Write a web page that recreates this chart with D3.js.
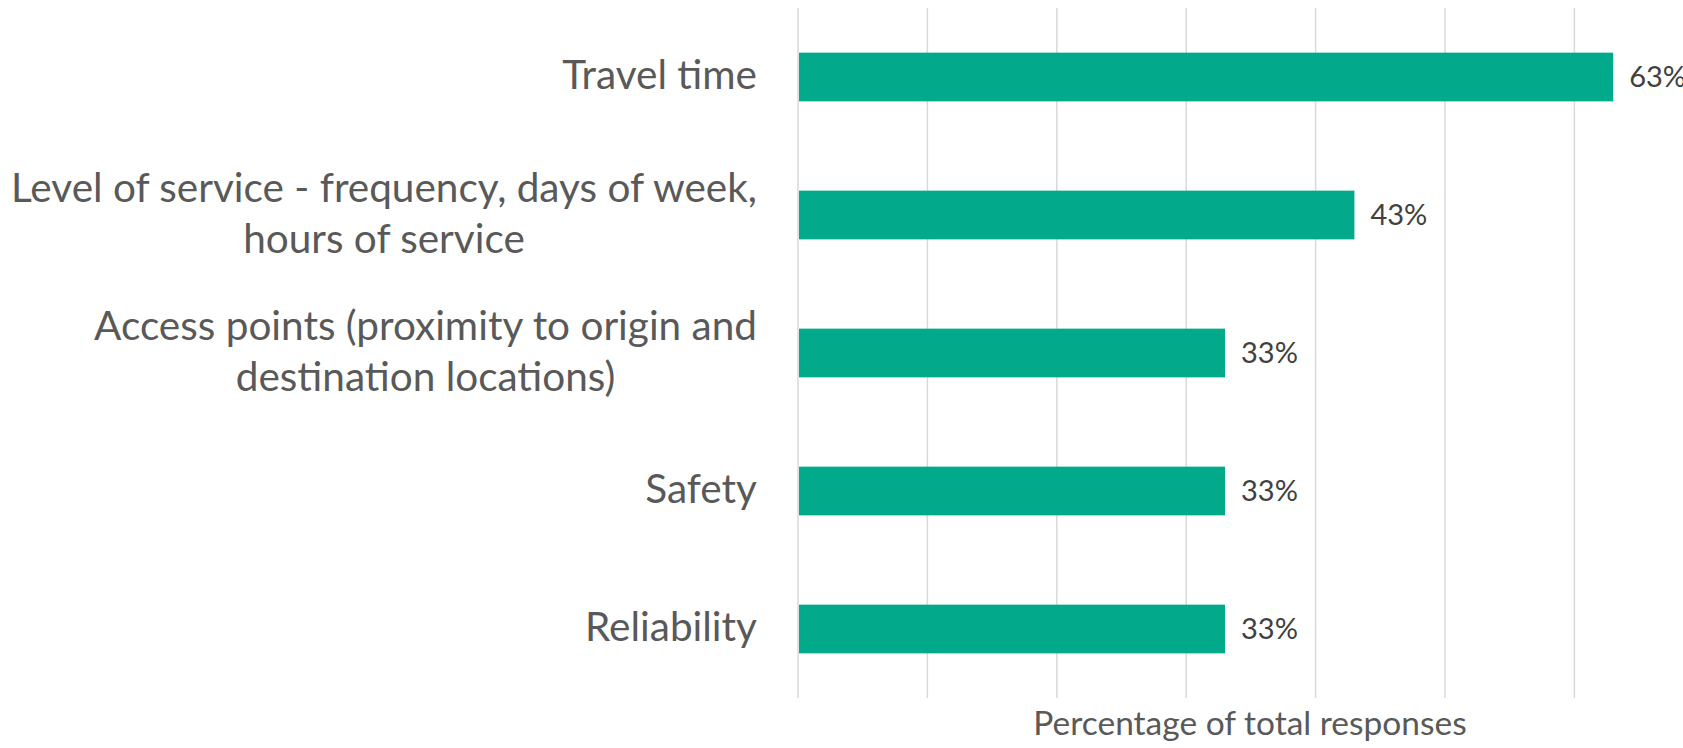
<!DOCTYPE html>
<html>
<head>
<meta charset="utf-8">
<script src="https://cdn.jsdelivr.net/npm/d3@7"></script>
<style>
  html, body { margin: 0; padding: 0; background: #fff; }
  svg { display: block; font-family: 'Source Sans Pro', Lato, sans-serif; }
</style>
</head>
<body>
<div class="root"></div>
<script>
const categories = [
  ['Travel time'],
  ['Level of service - frequency, days of week,', 'hours of service'],
  ['Access points (proximity to origin and', 'destination locations)'],
  ['Safety'],
  ['Reliability']
]
const values = [0.63, 0.43, 0.33, 0.33, 0.33]
const gridTicks = [0, 0.1, 0.2, 0.3, 0.4, 0.5, 0.6]
const axisTitle = 'Percentage of total responses'

const width = 1683
    , height = 748

const svg = d3.select('.root')
              .append('svg')
              .attr('width', width)
              .attr('height', height)

const keys = categories.map(c => c.join(' '))

const x = d3.scaleLinear()
            .domain([0, 0.6])
            .range([798, 1574.4])

const y = d3.scaleBand()
            .domain(keys)
            .range([8, 698])
            .paddingInner(0.647)
            .paddingOuter(0.3235)

// vertical gridlines
svg.append('g')
   .selectAll('line')
   .data(gridTicks)
   .enter()
   .append('line')
   .attr('x1', d => x(d))
   .attr('x2', d => x(d))
   .attr('y1', 8)
   .attr('y2', 698)
   .attr('stroke', '#d9d9d9')
   .attr('stroke-width', 1.5)

// bars
svg.append('g')
   .selectAll('rect')
   .data(values)
   .enter()
   .append('rect')
   .attr('x', x(0) + 1)
   .attr('y', (d, i) => y(keys[i]))
   .attr('width', d => x(d) - x(0) - 1)
   .attr('height', y.bandwidth())
   .attr('fill', '#02aa8b')

// value labels
svg.append('g')
   .selectAll('text')
   .data(values)
   .enter()
   .append('text')
   .attr('x', d => x(d) + 16)
   .attr('y', (d, i) => y(keys[i]) + y.bandwidth() / 2)
   .attr('dy', '0.35em')
   .attr('fill', '#404040')
   .style('font-size', '29px')
   .text(d => d3.format('.0%')(d))

// category labels: block right-aligned at the axis, wrapped lines centred in the block
const lineGap = 51
const catLabels = svg.append('g')
   .selectAll('text')
   .data(categories)
   .enter()
   .append('text')
   .attr('text-anchor', 'middle')
   .attr('fill', '#595959')
   .style('font-size', '40.5px')
   .attr('transform', (d, i) => `translate(757, ${y(keys[i]) + y.bandwidth() / 2})`)

catLabels.selectAll('tspan')
   .data(d => d.map((line, j) => ({ line, off: (j - (d.length - 1) / 2) * lineGap })))
   .enter()
   .append('tspan')
   .attr('y', d => d.off)
   .attr('dy', '0.3em')
   .text(d => d.line)

catLabels.each(function () {
  const spans = d3.select(this).selectAll('tspan')
  let maxW = 0
  spans.each(function () { maxW = Math.max(maxW, this.getComputedTextLength()) })
  spans.attr('x', -maxW / 2)
})

// axis title
svg.append('text')
   .attr('x', 1250)
   .attr('y', 735)
   .attr('text-anchor', 'middle')
   .attr('fill', '#595959')
   .style('font-size', '33.5px')
   .text(axisTitle)
</script>
</body>
</html>
